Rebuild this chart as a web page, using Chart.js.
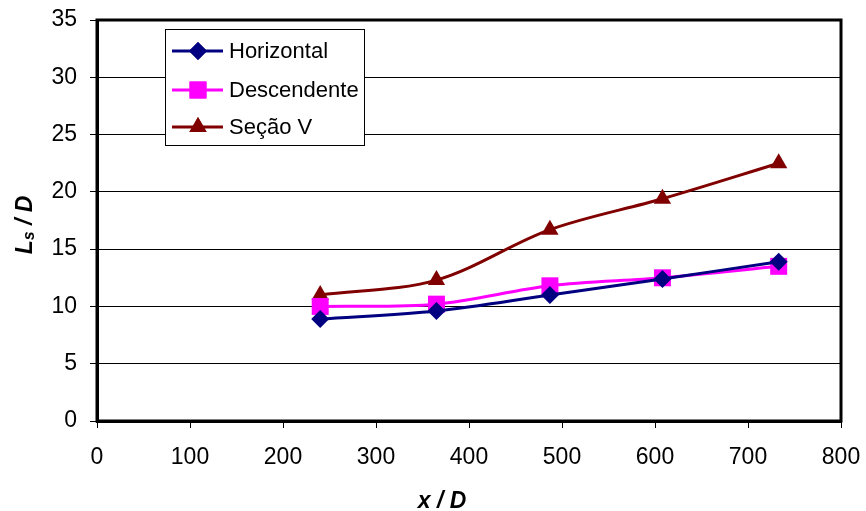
<!DOCTYPE html>
<html>
<head>
<meta charset="utf-8">
<title>Ls/D x x/D</title>
<script src="https://cdn.jsdelivr.net/npm/chart.js@4.4.1/dist/chart.umd.min.js"></script>
<style>
  html, body { margin: 0; padding: 0; background: #fff; }
  #chart { display: block; }
</style>
</head>
<body>
<canvas id="chart" width="866" height="511"></canvas>
<script>
// x / D stations and measured Ls / D per configuration
var xPositions = [240, 365, 487, 608, 733];
var horizontal = [8.9, 9.6, 11.0, 12.4, 13.9];
var descendente = [10.0, 10.2, 11.8, 12.5, 13.5];
var secaoV = [11.0, 12.3, 16.7, 19.4, 22.5];

var seriesNames = ['Horizontal', 'Descendente', 'Seção V'];
var seriesColors = ['#000080', '#ff00ff', '#800000'];
var seriesMarkers = ['rectRot', 'rect', 'triangle'];
var markerRadius = [9, 12, 10];

var xMin = 0, xMax = 800, xStep = 100;
var yMin = 0, yMax = 35, yStep = 5;

var FONT = "'Liberation Sans', Arial, sans-serif";

function toPoints(values) {
  var pts = [];
  for (var i = 0; i < values.length; ++i) {
    pts.push({ x: xPositions[i], y: values[i] });
  }
  return pts;
}

var allValues = [horizontal, descendente, secaoV];
var datasets = [];
for (var i = 0; i < allValues.length; ++i) {
  datasets.push({
    label: seriesNames[i],
    data: toPoints(allValues[i]),
    borderColor: seriesColors[i],
    backgroundColor: seriesColors[i],
    borderWidth: 3,
    pointStyle: seriesMarkers[i],
    pointRadius: markerRadius[i],
    pointHoverRadius: markerRadius[i],
    pointBorderWidth: 0,
    tension: 0.33,
    showLine: true,
    fill: false,
  });
}

// plot frame drawn under the series
var frame = {
  id: 'frame',
  beforeDatasetsDraw: function (chart) {
    var a = chart.chartArea;
    var ctx = chart.ctx;
    ctx.save();
    ctx.strokeStyle = '#000';
    ctx.lineWidth = 3;
    ctx.strokeRect(a.left, a.top, a.right - a.left, a.bottom - a.top);
    ctx.restore();
  }
};

// boxed legend with line + marker samples
var boxLegend = {
  id: 'boxLegend',
  afterDraw: function (chart) {
    var ctx = chart.ctx;
    var left = 165.5, top = 29.5, w = 199, h = 116;
    var rows = [51, 90, 127];
    ctx.save();
    ctx.fillStyle = '#fff';
    ctx.fillRect(left, top, w, h);
    ctx.strokeStyle = '#000';
    ctx.lineWidth = 1;
    ctx.strokeRect(left, top, w, h);
    for (var i = 0; i < chart.data.datasets.length; ++i) {
      var ds = chart.data.datasets[i];
      var y = rows[i];
      ctx.strokeStyle = ds.borderColor;
      ctx.lineWidth = 3;
      ctx.beginPath();
      ctx.moveTo(172, y);
      ctx.lineTo(223, y);
      ctx.stroke();
      ctx.fillStyle = ds.backgroundColor;
      Chart.helpers.drawPoint(ctx, { pointStyle: ds.pointStyle, radius: ds.pointRadius, borderWidth: 0 }, 198, y);
      ctx.fill();
      ctx.fillStyle = '#000';
      ctx.font = '22px ' + FONT;
      ctx.textAlign = 'left';
      ctx.textBaseline = 'middle';
      ctx.fillText(ds.label, 229, y + 1);
    }
    ctx.restore();
  }
};

// axis titles, with the subscript on Ls
var axisTitles = {
  id: 'axisTitles',
  afterDraw: function (chart) {
    var ctx = chart.ctx;
    var big = 'italic bold 23px ' + FONT;
    var small = 'italic bold 16px ' + FONT;
    ctx.save();
    ctx.fillStyle = '#000';
    ctx.textBaseline = 'alphabetic';
    ctx.textAlign = 'left';

    ctx.font = big;
    var xt = 'x / D';
    var xw = ctx.measureText(xt).width;
    ctx.fillText(xt, 442 - xw / 2, 508);

    ctx.translate(32, 225);
    ctx.rotate(-Math.PI / 2);
    ctx.font = big;
    var wL = ctx.measureText('L').width;
    var wRest = ctx.measureText(' / D').width;
    ctx.font = small;
    var wS = ctx.measureText('s').width;
    var x0 = -(wL + wS + wRest) / 2;
    ctx.font = big;
    ctx.fillText('L', x0, 0);
    ctx.font = small;
    ctx.fillText('s', x0 + wL, 2);
    ctx.font = big;
    ctx.fillText(' / D', x0 + wL + wS, 0);
    ctx.restore();
  }
};

new Chart(document.getElementById('chart').getContext('2d'), {
  type: 'scatter',
  data: { datasets: datasets },
  options: {
    responsive: false,
    animation: false,
    events: [],
    layout: { padding: { top: 20, right: 25, left: 0, bottom: 0 } },
    plugins: {
      legend: { display: false },
      tooltip: { enabled: false },
    },
    scales: {
      x: {
        type: 'linear',
        min: xMin,
        max: xMax,
        afterFit: function (scale) {
          scale.height = 90;
          scale.paddingLeft = 0;
          scale.paddingRight = 0;
        },
        ticks: {
          stepSize: xStep,
          color: '#000',
          padding: 16,
          font: { family: FONT, size: 23 },
        },
        grid: {
          drawOnChartArea: false,
          drawTicks: true,
          tickLength: 7,
          tickColor: '#000',
          tickWidth: 1,
        },
        border: { color: '#000', width: 3 },
      },
      y: {
        type: 'linear',
        min: yMin,
        max: yMax,
        afterFit: function (scale) {
          scale.width = 97;
          scale.paddingTop = 0;
          scale.paddingBottom = 0;
        },
        ticks: {
          stepSize: yStep,
          color: '#000',
          padding: 13,
          font: { family: FONT, size: 23 },
        },
        grid: {
          color: '#000',
          lineWidth: 1,
          tickLength: 7,
          tickColor: '#000',
        },
        border: { color: '#000', width: 3 },
      },
    },
  },
  plugins: [frame, boxLegend, axisTitles],
});
</script>
</body>
</html>
